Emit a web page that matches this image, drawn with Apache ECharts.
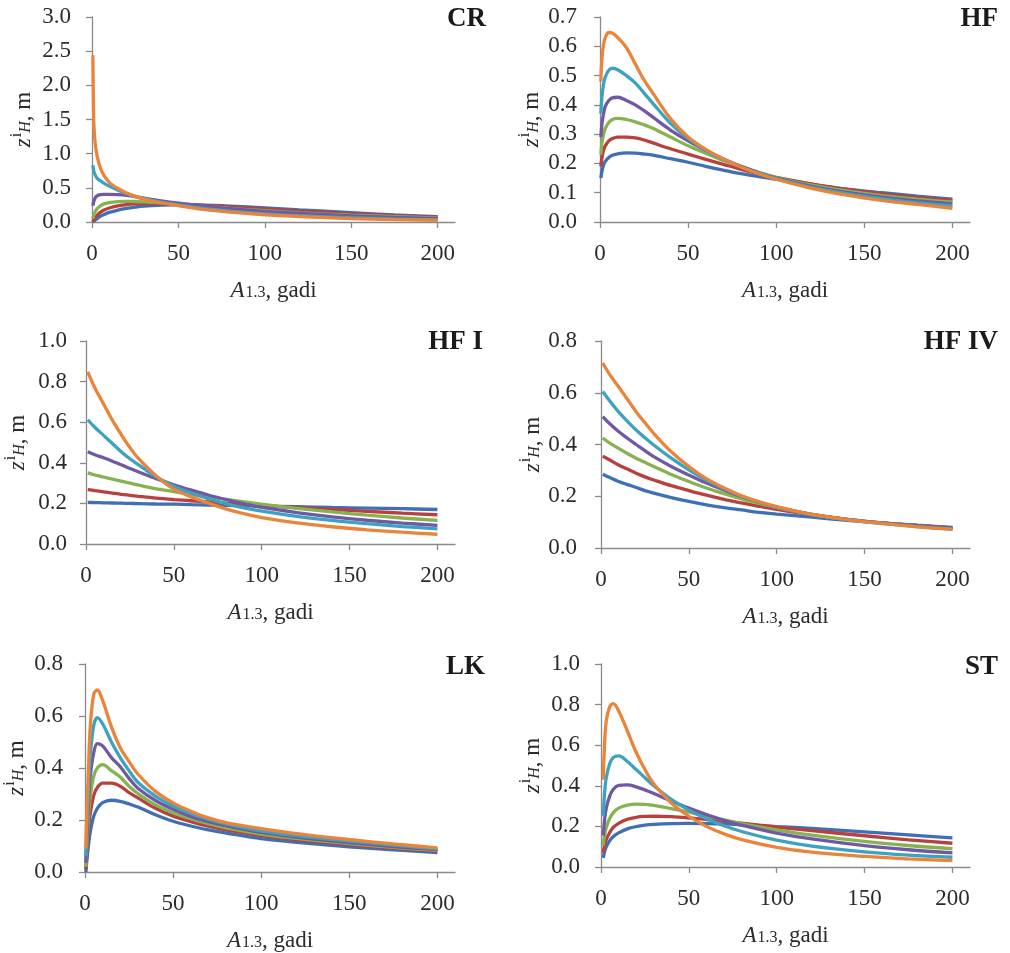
<!DOCTYPE html>
<html>
<head>
<meta charset="utf-8">
<title>zH</title>
<script src="https://cdn.jsdelivr.net/npm/echarts@6/dist/echarts.min.js"></script>
<style>
html, body { margin: 0; padding: 0; background: #fff; }
#main { width: 1010px; height: 953px; }
</style>
</head>
<body>
<div id="main"></div>
<script>
// line colours, drawn in this order (orange on top)
var colors = ['#3F6FB5', '#B8403D', '#86B350', '#7058A3', '#3BA3C1', '#EA843A'];

var panelNames = ['CR', 'HF', 'HF I', 'HF IV', 'LK', 'ST'];
var yMax = [3, 0.7, 1, 0.8, 0.8, 1];
var yStep = [0.5, 0.1, 0.2, 0.2, 0.2, 0.2];
var xTicks = [0, 50, 100, 150, 200];

// CR
var xCR = [0.5, 1, 1.5, 2, 3, 5, 7, 10, 15, 20, 25, 30, 40, 50, 60, 70, 80, 100, 120, 150, 175, 200];
var yCR = [
  [0, 0.01, 0.02, 0.03, 0.05, 0.085, 0.11, 0.14, 0.175, 0.2, 0.218, 0.232, 0.247, 0.252, 0.25, 0.243, 0.233, 0.207, 0.178, 0.137, 0.105, 0.08],
  [0, 0.03, 0.05, 0.07, 0.1, 0.145, 0.175, 0.205, 0.235, 0.255, 0.265, 0.27, 0.27, 0.262, 0.25, 0.235, 0.22, 0.19, 0.16, 0.12, 0.093, 0.07],
  [0.05, 0.1, 0.13, 0.16, 0.195, 0.24, 0.265, 0.285, 0.298, 0.302, 0.3, 0.295, 0.28, 0.262, 0.24, 0.22, 0.2, 0.165, 0.135, 0.1, 0.077, 0.058],
  [0.24, 0.3, 0.335, 0.36, 0.385, 0.4, 0.405, 0.405, 0.4, 0.39, 0.37, 0.35, 0.31, 0.275, 0.245, 0.22, 0.195, 0.155, 0.125, 0.09, 0.068, 0.05],
  [0.83, 0.75, 0.71, 0.68, 0.64, 0.6, 0.565, 0.525, 0.465, 0.415, 0.375, 0.345, 0.29, 0.25, 0.215, 0.185, 0.16, 0.12, 0.092, 0.062, 0.045, 0.032],
  [2.44, 1.5, 1.25, 1.12, 0.96, 0.78, 0.68, 0.58, 0.49, 0.425, 0.375, 0.335, 0.28, 0.24, 0.2, 0.17, 0.145, 0.105, 0.08, 0.05, 0.035, 0.025]
];

// HF
var xHF = [0.5, 1, 2, 3, 5, 7, 10, 15, 20, 25, 30, 40, 50, 60, 70, 80, 90, 100, 120, 140, 160, 180, 200];
var yHF = [
  [0.15, 0.17, 0.195, 0.207, 0.22, 0.228, 0.233, 0.236, 0.235, 0.232, 0.228, 0.216, 0.204, 0.19, 0.177, 0.165, 0.155, 0.146, 0.128, 0.112, 0.1, 0.088, 0.078],
  [0.19, 0.215, 0.245, 0.26, 0.277, 0.285, 0.29, 0.29, 0.287, 0.28, 0.27, 0.25, 0.232, 0.214, 0.197, 0.18, 0.165, 0.152, 0.13, 0.111, 0.096, 0.084, 0.074],
  [0.23, 0.265, 0.3, 0.32, 0.34, 0.35, 0.354, 0.35, 0.342, 0.332, 0.32, 0.29, 0.26, 0.235, 0.21, 0.19, 0.17, 0.152, 0.126, 0.106, 0.09, 0.078, 0.068],
  [0.29, 0.33, 0.37, 0.395, 0.415, 0.424, 0.426, 0.415, 0.4, 0.38, 0.358, 0.314, 0.277, 0.245, 0.215, 0.19, 0.168, 0.15, 0.122, 0.101, 0.085, 0.072, 0.062],
  [0.37, 0.42, 0.47, 0.495, 0.518, 0.525, 0.52, 0.5, 0.475, 0.44, 0.405, 0.337, 0.285, 0.245, 0.213, 0.188, 0.166, 0.148, 0.118, 0.097, 0.08, 0.066, 0.055],
  [0.48, 0.55, 0.605, 0.63, 0.647, 0.645, 0.63, 0.595, 0.54, 0.485, 0.44, 0.353, 0.29, 0.248, 0.215, 0.188, 0.165, 0.146, 0.115, 0.092, 0.074, 0.06, 0.047]
];

// HF I
var xHF1 = [1, 5, 10, 15, 20, 25, 30, 40, 50, 60, 70, 80, 90, 100, 120, 140, 160, 180, 200];
var yHF1 = [
  [0.205, 0.204, 0.203, 0.202, 0.201, 0.2, 0.199, 0.197, 0.196, 0.194, 0.192, 0.19, 0.189, 0.187, 0.184, 0.18, 0.177, 0.174, 0.17],
  [0.268, 0.263, 0.257, 0.251, 0.245, 0.24, 0.235, 0.226, 0.219, 0.213, 0.207, 0.201, 0.196, 0.19, 0.179, 0.17, 0.161, 0.152, 0.144],
  [0.35, 0.34, 0.33, 0.32, 0.31, 0.3, 0.29, 0.272, 0.258, 0.244, 0.232, 0.22, 0.208, 0.196, 0.176, 0.158, 0.142, 0.128, 0.116],
  [0.455, 0.44, 0.425, 0.408, 0.39, 0.372, 0.355, 0.322, 0.292, 0.265, 0.24, 0.218, 0.198, 0.18, 0.155, 0.134, 0.117, 0.103, 0.092],
  [0.612, 0.575, 0.535, 0.495, 0.455, 0.42, 0.39, 0.33, 0.285, 0.25, 0.222, 0.198, 0.178, 0.162, 0.136, 0.116, 0.1, 0.086, 0.075],
  [0.848, 0.77, 0.69, 0.61, 0.54, 0.475, 0.42, 0.335, 0.27, 0.232, 0.2, 0.172, 0.149, 0.13, 0.104, 0.085, 0.07, 0.058, 0.048]
];

// HF IV
var xHF4 = [1, 5, 10, 15, 20, 25, 30, 40, 50, 60, 70, 80, 90, 100, 120, 140, 160, 180, 200];
var yHF4 = [
  [0.285, 0.272, 0.257, 0.245, 0.234, 0.222, 0.212, 0.195, 0.18, 0.167, 0.156, 0.147, 0.138, 0.131, 0.119, 0.107, 0.097, 0.088, 0.08],
  [0.355, 0.34, 0.321, 0.305, 0.289, 0.275, 0.263, 0.241, 0.222, 0.204, 0.188, 0.174, 0.161, 0.149, 0.128, 0.111, 0.097, 0.087, 0.078],
  [0.425, 0.405, 0.385, 0.365, 0.347, 0.331, 0.315, 0.284, 0.257, 0.232, 0.21, 0.19, 0.172, 0.156, 0.13, 0.111, 0.097, 0.086, 0.077],
  [0.508, 0.48, 0.45, 0.424, 0.4, 0.376, 0.353, 0.315, 0.282, 0.251, 0.224, 0.199, 0.177, 0.158, 0.13, 0.111, 0.097, 0.086, 0.077],
  [0.605, 0.568, 0.526, 0.49, 0.456, 0.426, 0.398, 0.347, 0.302, 0.263, 0.23, 0.201, 0.177, 0.158, 0.129, 0.11, 0.095, 0.083, 0.073],
  [0.715, 0.67, 0.623, 0.575, 0.527, 0.484, 0.443, 0.372, 0.315, 0.268, 0.232, 0.202, 0.178, 0.16, 0.13, 0.11, 0.095, 0.082, 0.072]
];

// LK
var xLK = [0.5, 1, 2, 3, 5, 7, 10, 15, 20, 25, 30, 40, 50, 60, 70, 80, 100, 120, 150, 175, 200];
var yLK = [
  [0, 0.04, 0.105, 0.155, 0.215, 0.245, 0.267, 0.276, 0.272, 0.262, 0.25, 0.22, 0.195, 0.177, 0.162, 0.15, 0.128, 0.114, 0.097, 0.085, 0.075],
  [0.01, 0.07, 0.16, 0.225, 0.295, 0.325, 0.342, 0.342, 0.33, 0.305, 0.285, 0.245, 0.215, 0.194, 0.176, 0.162, 0.14, 0.124, 0.105, 0.091, 0.08],
  [0.02, 0.1, 0.21, 0.29, 0.37, 0.4, 0.413, 0.39, 0.365, 0.33, 0.302, 0.258, 0.228, 0.205, 0.186, 0.17, 0.146, 0.129, 0.109, 0.095, 0.083],
  [0.035, 0.13, 0.27, 0.37, 0.46, 0.494, 0.485, 0.44, 0.405, 0.36, 0.322, 0.275, 0.241, 0.214, 0.194, 0.178, 0.152, 0.134, 0.113, 0.098, 0.086],
  [0.06, 0.17, 0.32, 0.45, 0.565, 0.594, 0.57, 0.5, 0.44, 0.39, 0.345, 0.292, 0.254, 0.225, 0.202, 0.185, 0.158, 0.14, 0.119, 0.103, 0.089],
  [0.09, 0.22, 0.4, 0.56, 0.685, 0.7, 0.66, 0.558, 0.478, 0.425, 0.377, 0.31, 0.266, 0.234, 0.208, 0.19, 0.167, 0.148, 0.125, 0.108, 0.093]
];

// ST
var xST = [1.3, 2, 3, 5, 7, 10, 15, 20, 25, 30, 40, 50, 60, 70, 80, 100, 120, 150, 175, 200];
var yST = [
  [0.045, 0.075, 0.1, 0.13, 0.15, 0.168, 0.188, 0.199, 0.206, 0.21, 0.214, 0.215, 0.214, 0.212, 0.208, 0.199, 0.19, 0.173, 0.158, 0.143],
  [0.07, 0.105, 0.135, 0.17, 0.195, 0.215, 0.235, 0.245, 0.249, 0.25, 0.248, 0.242, 0.234, 0.225, 0.216, 0.197, 0.179, 0.154, 0.134, 0.117],
  [0.105, 0.155, 0.195, 0.24, 0.268, 0.29, 0.305, 0.31, 0.308, 0.303, 0.288, 0.27, 0.25, 0.232, 0.214, 0.183, 0.157, 0.126, 0.106, 0.09],
  [0.155, 0.23, 0.29, 0.35, 0.383, 0.402, 0.405, 0.395, 0.38, 0.362, 0.325, 0.29, 0.258, 0.23, 0.206, 0.167, 0.138, 0.105, 0.085, 0.07],
  [0.25, 0.36, 0.44, 0.51, 0.54, 0.547, 0.52, 0.48, 0.44, 0.4, 0.333, 0.28, 0.238, 0.203, 0.175, 0.132, 0.103, 0.075, 0.059, 0.048],
  [0.43, 0.6, 0.72, 0.79, 0.805, 0.77, 0.67, 0.565, 0.48, 0.41, 0.315, 0.25, 0.2, 0.163, 0.135, 0.097, 0.073, 0.052, 0.04, 0.031]
];

var panelX = [xCR, xHF, xHF1, xHF4, xLK, xST];
var panelY = [yCR, yHF, yHF1, yHF4, yLK, yST];

// panel placement (px)
var boxes = [
  { left: 92,  top: 17,  width: 363, height: 205, tRight: 524, tTop: 6,   lm: 21 },
  { left: 600, top: 17,  width: 370, height: 205, tRight: 12,  tTop: 6,   lm: 23 },
  { left: 86,  top: 341, width: 369, height: 203, tRight: 527, tTop: 329, lm: 19 },
  { left: 601, top: 341, width: 369, height: 207, tRight: 12,  tTop: 329, lm: 24 },
  { left: 85,  top: 664, width: 370, height: 208, tRight: 525, tTop: 654, lm: 22 },
  { left: 601, top: 664, width: 369, height: 203, tRight: 12,  tTop: 654, lm: 21 }
];

var FONT = 'Liberation Serif';
var axisGray = '#8a8a8a';
var textCol = '#2b2b2b';

// sub/superscripts: every token top-aligned, shifted with top padding
var xNameRich = {
  a: { fontFamily: FONT, fontSize: 23, fontStyle: 'italic', color: textCol, verticalAlign: 'top', padding: [5, 0, 0, 0] },
  s: { fontFamily: FONT, fontSize: 16, color: textCol, verticalAlign: 'top', padding: [11, 0, 0, 1] },
  t: { fontFamily: FONT, fontSize: 23, color: textCol, verticalAlign: 'top', padding: [5, 0, 0, 0] }
};
var yNameRich = {
  z: { fontFamily: FONT, fontSize: 23, fontStyle: 'italic', color: textCol, verticalAlign: 'top', padding: [5, 0, 0, 0] },
  sup: { fontFamily: FONT, fontSize: 16, color: textCol, verticalAlign: 'top', padding: [2, 0, 0, 1] },
  sub: { fontFamily: FONT, fontSize: 16, fontStyle: 'italic', color: textCol, verticalAlign: 'top', padding: [11, 0, 0, 0] },
  t: { fontFamily: FONT, fontSize: 23, color: textCol, verticalAlign: 'top', padding: [5, 0, 0, 0] }
};

var grids = [], xAxes = [], yAxes = [], titles = [], series = [];

for (var p = 0; p < 6; p++) {
  var b = boxes[p];
  grids.push({ left: b.left, top: b.top, width: b.width, height: b.height, outerBoundsMode: 'none' });
  titles.push({
    text: panelNames[p], right: b.tRight, top: b.tTop, padding: 0,
    textStyle: { fontFamily: FONT, fontWeight: 'bold', fontSize: 27, color: '#1a1a1a' }
  });
  xAxes.push({
    type: 'value', gridIndex: p, min: 0, max: 210, interval: 50,
    name: '{a|A}{s|1.3}{t|, gadi}', nameLocation: 'middle', nameGap: 52,
    nameTextStyle: { rich: xNameRich },
    axisLine: { show: true, lineStyle: { color: axisGray, width: 1.3 } },
    axisTick: { show: true, length: 6, customValues: xTicks, lineStyle: { color: axisGray, width: 1.3 } },
    axisLabel: { customValues: xTicks, margin: 20, fontFamily: FONT, fontSize: 23, color: textCol },
    splitLine: { show: false }
  });
  yAxes.push({
    type: 'value', gridIndex: p, min: 0, max: yMax[p], interval: yStep[p],
    name: '{z|z}{sup|i}{sub|H}{t|, m}', nameLocation: 'middle', nameRotate: 90, nameGap: 57,
    nameTextStyle: { rich: yNameRich },
    axisLine: { show: true, lineStyle: { color: axisGray, width: 1.3 } },
    axisTick: { show: true, length: 6, lineStyle: { color: axisGray, width: 1.3 } },
    axisLabel: {
      margin: b.lm, fontFamily: FONT, fontSize: 23, color: textCol,
      formatter: function (v) { return v.toFixed(1); }
    },
    splitLine: { show: false }
  });
  for (var s = 0; s < 6; s++) {
    var xs = panelX[p], ys = panelY[p][s], pts = [];
    for (var i = 0; i < xs.length; i++) pts.push([xs[i], ys[i]]);
    series.push({
      type: 'line', xAxisIndex: p, yAxisIndex: p, data: pts,
      showSymbol: false, smooth: 0.35,
      lineStyle: { color: colors[s], width: 3.3 },
      itemStyle: { color: colors[s] },
      silent: true, animation: false
    });
  }
}

var myChart = echarts.init(document.getElementById('main'));
myChart.setOption({
  backgroundColor: '#fff',
  animation: false,
  title: titles,
  grid: grids,
  xAxis: xAxes,
  yAxis: yAxes,
  series: series
});
</script>
</body>
</html>
